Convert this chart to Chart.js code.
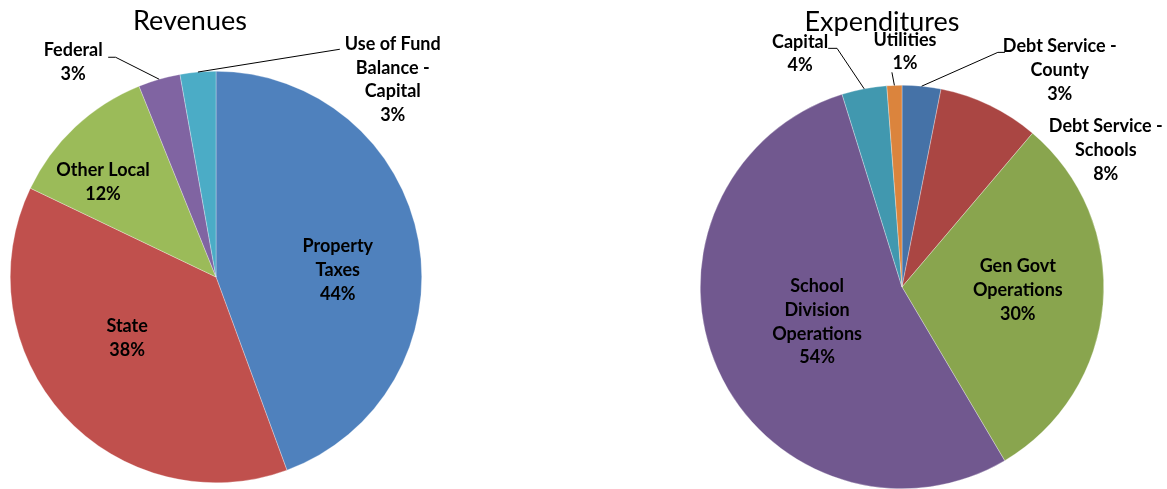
<!DOCTYPE html>
<html>
<head>
<meta charset="utf-8">
<script src="https://cdn.jsdelivr.net/npm/chart.js@4/dist/chart.umd.min.js"></script>
<style>
  html, body { margin: 0; padding: 0; background: #ffffff; }
  body { width: 1167px; height: 489px; position: relative; overflow: hidden; }
  canvas { position: absolute; top: 0; }
  #rev { left: 0; }
  #exp { left: 583px; }
</style>
</head>
<body>
<canvas id="rev" width="583" height="489"></canvas>
<canvas id="exp" width="584" height="489"></canvas>
<script>
// ---------- DATA ----------
const revTitle = 'Revenues';
const revCategories = ['Property Taxes', 'State', 'Other Local', 'Federal', 'Use of Fund Balance - Capital'];
const revValues = [44.4, 37.7, 11.8, 3.3, 2.8];
const revLabelLines = [['Property', 'Taxes'], ['State'], ['Other Local'], ['Federal'], ['Use of Fund', 'Balance -', 'Capital']];

const expTitle = 'Expenditures';
const expCategories = ['Debt Service - County', 'Debt Service - Schools', 'Gen Govt Operations', 'School Division Operations', 'Capital', 'Utilities'];
const expValues = [3.1, 8.1, 30.3, 53.7, 3.6, 1.2];
const expLabelLines = [['Debt Service -', 'County'], ['Debt Service -', 'Schools'], ['Gen Govt', 'Operations'], ['School', 'Division', 'Operations'], ['Capital'], ['Utilities']];

// ---------- STYLE ----------
const revColors = ['#4F81BD', '#C0504D', '#9BBB59', '#8064A2', '#4BACC6'];
const expColors = ['#4572A7', '#AA4643', '#89A54E', '#71588F', '#4198AF', '#DB843D'];

// label anchors in units of the pie radius, relative to the pie centre
const revLabelStyle = [
  { at: [0.592, -0.034] },
  { at: [-0.432, 0.296] },
  { at: [-0.549, -0.461] },
  { at: [-0.694, -1.044], leader: [[-0.488, -1.068], [-0.524, -1.068]] },
  { at: [0.859, -0.959], leader: [[0.602, -1.107]] }
];
const expLabelStyle = [
  { at: [0.782, -1.074], leader: [[0.475, -1.163], [0.510, -1.163]] },
  { at: [1.010, -0.678] },
  { at: [0.574, 0.015] },
  { at: [-0.421, 0.173] },
  { at: [-0.505, -1.156], leader: [[-0.322, -1.183], [-0.366, -1.183]] },
  { at: [0.015, -1.166], leader: [[-0.050, -1.064]] }
];

const FONT_FAMILY = 'Lato, "Open Sans", "Liberation Sans", sans-serif';

const pieLabelPlugin = {
  id: 'pieLabels',
  afterDatasetsDraw(chart, args, opts) {
    const ctx = chart.ctx;
    const meta = chart.getDatasetMeta(0);
    const values = chart.data.datasets[0].data;
    const total = values.reduce((a, b) => a + b, 0);
    ctx.save();
    // title
    ctx.fillStyle = '#000000';
    ctx.font = '400 27px ' + FONT_FAMILY;
    ctx.textAlign = 'center';
    ctx.textBaseline = 'middle';
    ctx.fillText(opts.title, opts.titleX, opts.titleY);

    meta.data.forEach((arc, i) => {
      const p = arc.getProps(['x', 'y', 'startAngle', 'endAngle', 'outerRadius'], true);
      const R = p.outerRadius;
      const st = opts.styles[i];
      const lines = opts.lines[i].concat([Math.round(values[i] / total * 100) + '%']);
      const cx = p.x + st.at[0] * R;
      const cy = p.y + st.at[1] * R;
      // leader line
      if (st.leader) {
        const mid = (p.startAngle + p.endAngle) / 2;
        ctx.beginPath();
        ctx.moveTo(p.x + Math.cos(mid) * R, p.y + Math.sin(mid) * R);
        st.leader.forEach(pt => ctx.lineTo(p.x + pt[0] * R, p.y + pt[1] * R));
        ctx.strokeStyle = '#000000';
        ctx.lineWidth = 1;
        ctx.stroke();
      }
      const lh = 23.8;
      ctx.font = '700 18px ' + FONT_FAMILY;
      ctx.fillStyle = '#000000';
      ctx.textAlign = 'center';
      ctx.textBaseline = 'middle';
      const y0 = cy - (lines.length - 1) * lh / 2;
      lines.forEach((t, k) => ctx.fillText(t, cx, y0 + k * lh));
    });
    ctx.restore();
  }
};

function makePie(id, categories, values, colors, lines, styles, title, titleX, titleY, padding) {
  return new Chart(document.getElementById(id), {
    type: 'pie',
    data: {
      labels: categories,
      datasets: [{
        data: values,
        backgroundColor: colors,
        borderColor: 'rgba(255,255,255,0.6)',
        borderWidth: 0.5
      }]
    },
    options: {
      responsive: false,
      animation: false,
      devicePixelRatio: 1,
      layout: { padding: padding },
      plugins: {
        legend: { display: false },
        tooltip: { enabled: false },
        title: { display: false },
        pieLabels: { lines: lines, styles: styles, title: title, titleX: titleX, titleY: titleY }
      }
    },
    plugins: [pieLabelPlugin]
  });
}

makePie('rev', revCategories, revValues, revColors, revLabelLines, revLabelStyle, revTitle, 190, 21,
  { left: 10, top: 71, right: 161, bottom: 6 });
makePie('exp', expCategories, expValues, expColors, expLabelLines, expLabelStyle, expTitle, 299, 22,
  { left: 117, top: 85, right: 63, bottom: 0 });
</script>
</body>
</html>
